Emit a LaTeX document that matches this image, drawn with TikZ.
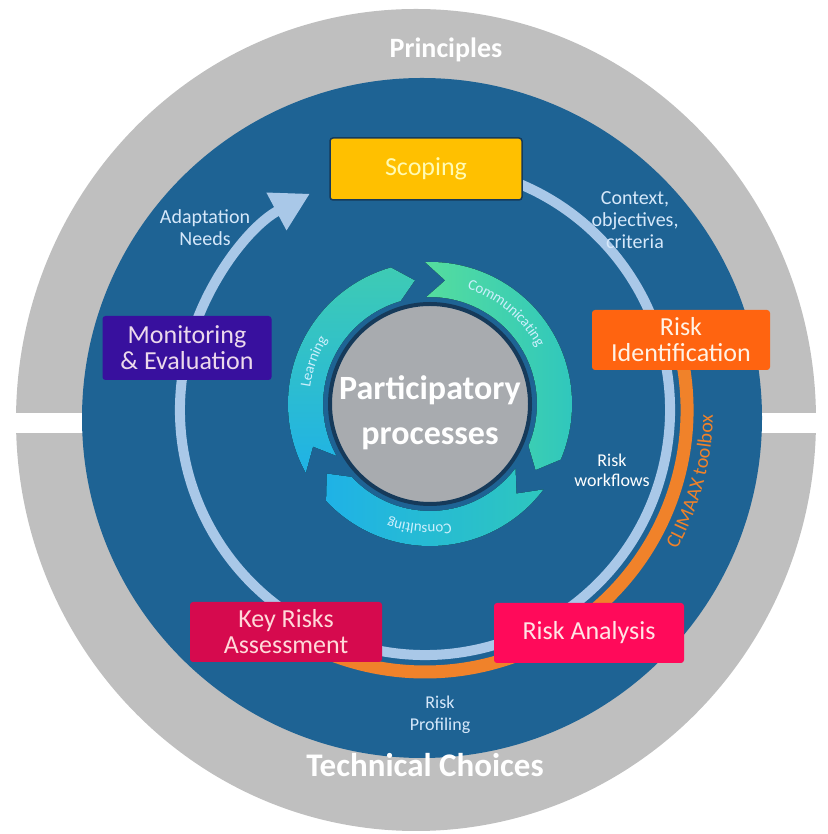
\documentclass[tikz,border=0pt]{standalone}
\usepackage{fontspec}
\setmainfont{Carlito}
\usetikzlibrary{arrows.meta,decorations.text}

\definecolor{ringgray}{HTML}{BFBFBF}
\definecolor{discblue}{HTML}{1E6394}
\definecolor{pathblue}{HTML}{A9C8E8}
\definecolor{toolorange}{HTML}{F0822A}
\definecolor{hubgray}{HTML}{A8ABAF}
\definecolor{hubline}{HTML}{163A5A}
\definecolor{scopeyellow}{HTML}{FFC000}
\definecolor{identorange}{HTML}{FF6410}
\definecolor{monpurple}{HTML}{38109E}
\definecolor{keycrimson}{HTML}{D60A4E}
\definecolor{analysispink}{HTML}{FF0A5A}
\definecolor{learncyan}{HTML}{1FB2E6}
\definecolor{learnteal}{HTML}{3ECBB4}
\definecolor{commgreen}{HTML}{55DD9E}
\definecolor{commteal}{HTML}{2EC6BE}
\definecolor{labelblue}{HTML}{D6E8FA}

% curved chevron: tail angle, tip angle, fill
\newcommand{\ringarrow}[3]{%
  \pgfmathsetmacro{\notchangle}{#1-9}%
  \pgfmathsetmacro{\headangle}{#2+9}%
  \fill [#3] (#1:142pt) arc [start angle=#1, end angle=\headangle, radius=142pt]
    -- (#2:124.5pt) -- (\headangle:107pt)
    arc [start angle=\headangle, end angle=#1, radius=107pt]
    -- (\notchangle:124.5pt) -- cycle;
}

\begin{document}
\begin{tikzpicture}[x=1pt, y=1pt,
  stage/.style={rounded corners=3pt, minimum width=190pt, minimum height=60pt,
    inner sep=2pt, align=center, font=\fontsize{26}{26}\selectfont},
  note/.style={align=center, text=labelblue, font=\fontsize{20}{22}\selectfont},
  band/.style={text=white, font=\bfseries\fontsize{28}{28}\selectfont},
  arrowtext/.style={decorate, decoration={text along path, text align=center,
    raise=-3.5pt, text={|\color{white!80!cyan}\fontsize{15}{15}\selectfont|#1}}}]

  \useasboundingbox (0,0) rectangle (827,834);

  % outer band and disc
  \fill [ringgray] (416,414) ellipse [x radius=400pt, y radius=411pt];
  \fill [white] (0,401) rectangle (827,421);
  \fill [discblue] (422,416) circle (340pt);

  \node [band] (principles) at (446,784) {Principles};
  \node [band, font=\bfseries\fontsize{33}{33}\selectfont] (choices) at (425,69) {Technical Choices};

  % main cycle
  \begin{scope}[shift={(425,424)}]
    \draw [toolorange, line width=13pt] (15:262pt) arc [start angle=15, end angle=-120, radius=262pt];
    \draw [pathblue, line width=10pt, -{Triangle[width=40pt,length=38pt]}]
      (75:245pt) arc [start angle=75, end angle=-242, radius=245pt];
    \path [decorate, decoration={text along path, text align=center,
      text={|\color{toolorange}\fontsize{20}{20}\selectfont|CLIMAAX toolbox}}]
      (-45:288pt) arc [start angle=-45, end angle=15, radius=288pt];
  \end{scope}

  \node [stage, fill=scopeyellow, draw=hubline, line width=1.5pt, minimum width=192pt,
    minimum height=62pt, text=yellow!30] (scoping) at (426,665) {Scoping};
  \node [stage, fill=identorange, minimum width=178pt, text=orange!10] (ident) at (681,494) {Risk\\Identification};
  \node [stage, fill=monpurple, minimum width=169pt, minimum height=64pt, text=violet!15] (monitor) at (187,486) {Monitoring\\\& Evaluation};
  \node [stage, fill=keycrimson, minimum width=192pt, text=pink!60] (keyrisk) at (286,202) {Key Risks\\Assessment};
  \node [stage, fill=analysispink, text=pink!40] (analysis) at (589,201) {Risk Analysis};

  \node [note] (needs) at (205,606) {Adaptation\\Needs};
  \node [note] (context) at (635,614) {Context,\\objectives,\\criteria};
  \node [note, text=white, font=\fontsize{18}{20}\selectfont] (workflows) at (612,364) {Risk\\workflows};
  \node [note, font=\fontsize{18}{22}\selectfont] (profiling) at (440,119) {Risk\\Profiling};

  % participatory processes
  \begin{scope}[shift={(430,430)}]
    \ringarrow{209}{97}{top color=learnteal, bottom color=learncyan}
    \ringarrow{92}{-32}{left color=commgreen, right color=commteal}
    \ringarrow{-37}{-146}{left color=learncyan, right color=commteal}
    \path [arrowtext=Learning] (200:124.5pt) arc [start angle=200, end angle=120, radius=124.5pt];
    \path [arrowtext=Communicating] (83:124.5pt) arc [start angle=83, end angle=17, radius=124.5pt];
    \path [arrowtext=Consulting] (-50:124.5pt) arc [start angle=-50, end angle=-140, radius=124.5pt];
    \fill [hubgray, draw=hubline, line width=4pt] (0,0) circle (100pt);
  \end{scope}
  \node [text=white, align=center, font=\bfseries\fontsize{34}{45}\selectfont] (hub) at (430,421) {Participatory\\processes};
\end{tikzpicture}
\end{document}
